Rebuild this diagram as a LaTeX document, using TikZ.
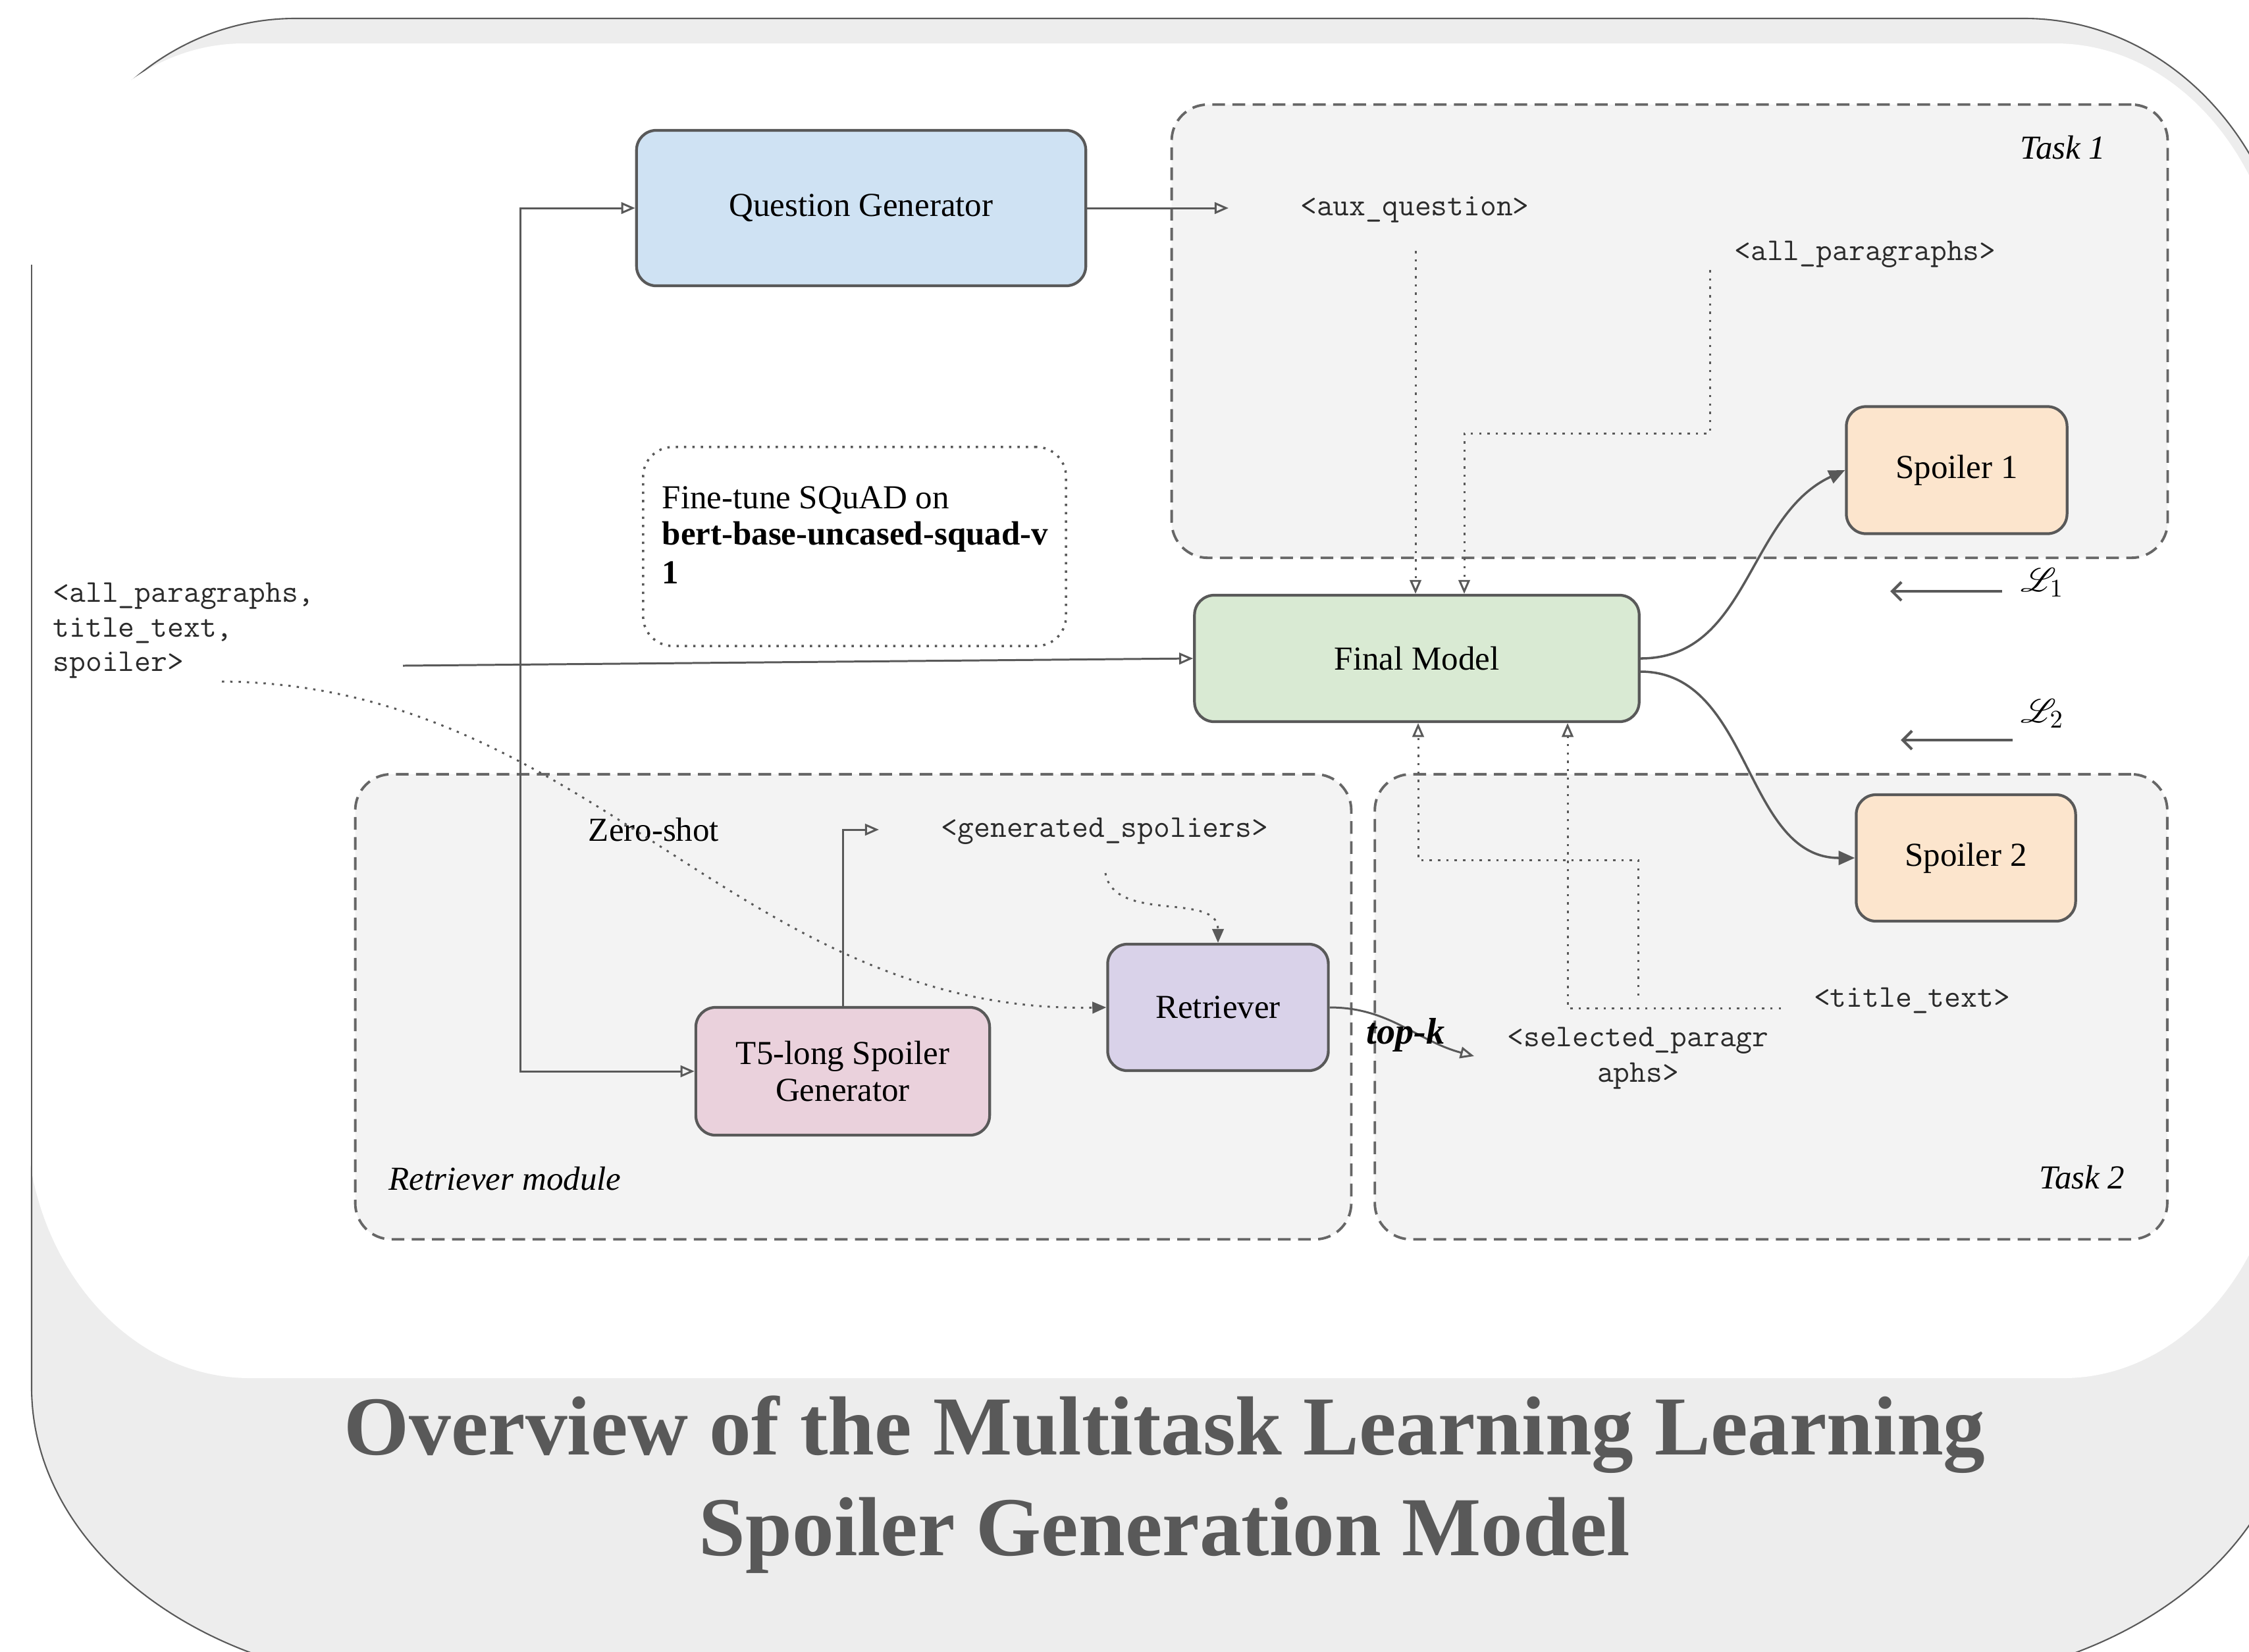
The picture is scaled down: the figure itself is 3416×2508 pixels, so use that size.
\documentclass[tikz,border=0pt]{standalone}
\usepackage{fontspec}
\setmainfont{Liberation Serif}
\usepackage{mathrsfs}
\usetikzlibrary{arrows.meta,calc}
\definecolor{framefill}{HTML}{EDEDED}
\definecolor{frameline}{HTML}{595959}
\definecolor{grpfill}{HTML}{F3F3F3}
\definecolor{grpline}{HTML}{666666}
\definecolor{boxline}{HTML}{595959}
\definecolor{qgfill}{HTML}{CFE2F3}
\definecolor{fmfill}{HTML}{D9EAD3}
\definecolor{spfill}{HTML}{FCE5CD}
\definecolor{retfill}{HTML}{D9D2E9}
\definecolor{tfivefill}{HTML}{EAD1DC}
\definecolor{connc}{HTML}{595959}
\definecolor{monoc}{HTML}{2B2B2B}
\definecolor{titlec}{HTML}{595959}
\newcommand{\serifsize}{\fontsize{14.5pt}{17pt}\selectfont}
\newcommand{\monosize}{\fontsize{13.7pt}{15pt}\selectfont\ttfamily}
\newcommand{\titlesize}{\fontsize{36.2pt}{43pt}\selectfont\bfseries}
\begin{document}
\begin{tikzpicture}[x=0.01cm,y=-0.01cm,
 bx/.style={draw=boxline,line width=1.2pt,rounded corners=0.3cm,font=\serifsize,align=center,inner sep=0pt},
 grp/.style={draw=grpline,fill=grpfill,line width=1.1pt,dash pattern=on 5.5pt off 3.2pt,rounded corners=0.55cm,inner sep=0pt},
 mtxt/.style={font=\monosize,text=monoc,inner sep=0pt},
 stxt/.style={font=\serifsize,inner sep=0pt},
 cn/.style={draw=connc,line width=0.85pt,-{Triangle[open,length=6pt,width=5pt]}},
 dcn/.style={cn,dash pattern=on 1pt off 2.6pt},
 dfcn/.style={draw=connc,line width=0.85pt,dash pattern=on 1pt off 2.6pt,-{Triangle[length=6pt,width=5pt]}},
 fcn/.style={draw=connc,line width=1pt,-{Triangle[length=7pt,width=6pt]}},
 lar/.style={draw=connc,line width=1.2pt,-{Straight Barb[length=4pt,width=8pt]}},
 frm/.style={draw=frameline,line width=0.6pt}
]
\useasboundingbox (0,0) rectangle (3416,2508);
% ---------- slide frame ----------
\begin{scope}
\clip (0,0) rectangle (3416,2508);
\path[fill=framefill,frm] (48,468) .. controls (48,225) and (227,28) .. (448,28)
  -- (3075,28) .. controls (3301,28) and (3485,234) .. (3485,488)
  -- (3485,2107) .. controls (3485,2356) and (3216,2557) .. (2885,2557)
  -- (648,2557) .. controls (317,2557) and (48,2356) .. (48,2107) -- cycle;
\fill[white] (40,450) .. controls (40,238) and (188,66) .. (370,66)
  -- (3122,66) .. controls (3314,66) and (3470,259) .. (3470,496)
  -- (3470,1683) .. controls (3470,1909) and (3320,2093) .. (3134,2093)
  -- (380,2093) .. controls (192,2093) and (40,1914) .. (40,1693) -- cycle;
\draw[frm] (48,402) -- (48,2107);
\end{scope}
% ---------- groups ----------
\node[grp,minimum width=15.12cm,minimum height=6.88cm] (task1) at (2536,503) {};
\node[grp,minimum width=15.12cm,minimum height=7.06cm] (retmod) at (1296,1529) {};
\node[grp,minimum width=12.03cm,minimum height=7.06cm] (task2) at (2690,1529) {};
\node[draw=connc,line width=1pt,dash pattern=on 1pt off 2.6pt,rounded corners=0.45cm,minimum width=6.42cm,minimum height=3.02cm] (ftbox) at (1298,830) {};
% ---------- labels ----------
\node[stxt,font=\serifsize\itshape,anchor=east] (t1lab) at (3199,224) {Task 1};
\node[stxt,font=\serifsize\itshape,anchor=east] (t2lab) at (3228,1788) {Task 2};
\node[stxt,font=\serifsize\itshape,anchor=west] (rmlab) at (590,1790) {Retriever module};
\node[stxt] (zslab) at (993,1260) {Zero-shot};
\node[stxt,anchor=west] (ft1) at (1005,760) {Fine-tune SQuAD on};
\node[stxt,anchor=west] (ft2) at (1005,815) {\bfseries bert-base-uncased-squad-v};
\node[stxt,anchor=west] (ft3) at (1005,870) {\bfseries 1};
% ---------- boxes ----------
\node[bx,fill=qgfill,minimum width=6.82cm,minimum height=2.36cm] (QG) at (1308,316) {Question Generator};
\node[bx,fill=fmfill,minimum width=6.75cm,minimum height=1.92cm] (FM) at (2152,1000) {Final Model};
\node[bx,fill=spfill,minimum width=3.35cm,minimum height=1.93cm] (S1) at (2972,714) {Spoiler 1};
\node[bx,fill=spfill,minimum width=3.33cm,minimum height=1.92cm] (S2) at (2986,1303) {Spoiler 2};
\node[bx,fill=retfill,minimum width=3.35cm,minimum height=1.92cm] (Ret) at (1850,1530) {Retriever};
\node[bx,fill=tfivefill,minimum width=4.46cm,minimum height=1.94cm] (T5) at (1280,1627) {T5-long Spoiler\\[-1pt]Generator};
% ---------- mono texts ----------
\node[mtxt] (aux) at (2149,318) {<aux\_question>};
\node[mtxt] (allp) at (2833,386) {<all\_paragraphs>};
\node[mtxt] (gen) at (1678,1262) {<generated\_spoliers>};
\node[mtxt] (ttx) at (2904,1520) {<title\_text>};
\node[mtxt] (sel1) at (2488,1580) {<selected\_paragr};
\node[mtxt] (sel2) at (2488,1634) {aphs>};
\node[mtxt,anchor=west] (in1) at (80,905) {<all\_paragraphs,};
\node[mtxt,anchor=west] (in2) at (80,958) {title\_text,};
\node[mtxt,anchor=west] (in3) at (80,1010) {spoiler>};
% ---------- loss labels ----------
\node[font=\fontsize{15pt}{18pt}\selectfont,inner sep=0pt] (L1) at (3102,885) {$\mathscr{L}_1$};
\node[font=\fontsize{15pt}{18pt}\selectfont,inner sep=0pt] (L2) at (3102,1084) {$\mathscr{L}_2$};
% ---------- coordinates ----------
\coordinate (inS) at (612,1011);
\coordinate (jn) at (790,1008);
\coordinate (auxin) at (1866,316);
\coordinate (auxo) at (2150,381);
\coordinate (allpo) at (2597,410);
\coordinate (allpk) at (2224,658);
\coordinate (selin) at (2239,1604);
\coordinate (tto) at (2705,1531);
\coordinate (ttk) at (2381,1531);
\coordinate (selo) at (2488,1512);
\coordinate (selk) at (2154,1306);
\coordinate (genin) at (1335,1260);
\coordinate (geno) at (1679,1326);
\coordinate (spo) at (337,1035);
\coordinate (l1a) at (3041,898);
\coordinate (l1b) at (2871,898);
\coordinate (l2a) at (3057,1124);
\coordinate (l2b) at (2887,1124);
% ---------- connectors ----------
\draw[cn] (inS) -- (FM.west);
\draw[cn] (jn) |- (QG.west);
\draw[cn] (jn) |- (T5.west);
\draw[cn] (QG.east) -- (auxin);
\draw[dcn] (auxo) -- (auxo |- FM.north);
\draw[dcn] (allpo) |- (allpk) -- (allpk |- FM.north);
\draw[fcn] (FM.east) to[out=0,in=205] (S1.west);
\draw[fcn] ([yshift=-0.2cm]FM.east) to[out=0,in=180] (S2.west);
\draw[cn] (Ret.east) to[out=0,in=165] (selin);
\draw[dcn] (tto) -- (ttk) -- (ttk |- FM.south);
\draw[dcn] (selo) |- (selk) -- (selk |- FM.south);
\draw[cn] (T5.north) |- (genin);
\draw[dfcn] (geno) to[out=-80,in=90] (Ret.north);
\draw[dfcn] (spo) .. controls (900,1040) and (1120,1540) .. (Ret.west);
\draw[lar] (l1a) -- (l1b);
\draw[lar] (l2a) -- (l2b);
\node[font=\fontsize{16pt}{18pt}\selectfont\bfseries\itshape,inner sep=0pt] (topk) at (2135,1572) {top-k};
% ---------- title ----------
\node[font=\titlesize,text=titlec,anchor=base,inner sep=0pt] (title1) at (1769,2209) {Overview of the Multitask Learning Learning};
\node[font=\titlesize,text=titlec,anchor=base,inner sep=0pt] (title2) at (1769,2362) {Spoiler Generation Model};
\end{tikzpicture}
\end{document}
